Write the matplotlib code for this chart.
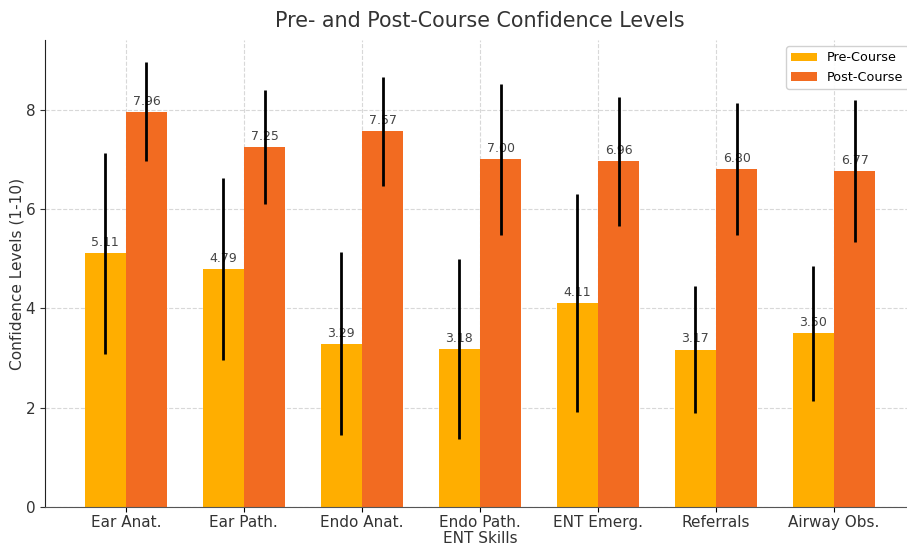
import numpy as np
import matplotlib
matplotlib.use("Agg")
import matplotlib.pyplot as plt

# dados
habilidades = ["Ear Anat.", "Ear Path.", "Endo Anat.", "Endo Path.",
               "ENT Emerg.", "Referrals", "Airway Obs."]
pre_media = [5.11, 4.79, 3.29, 3.18, 4.11, 3.17, 3.50]
pos_media = [7.96, 7.25, 7.57, 7.00, 6.96, 6.80, 6.77]
pre_dp = [2.02, 1.83, 1.84, 1.81, 2.20, 1.28, 1.36]
pos_dp = [1.00, 1.14, 1.10, 1.53, 1.29, 1.33, 1.43]

cor_pre = "#FFAE00"
cor_pos = "#F26B21"

fig = plt.figure(figsize=(9.07, 5.45), dpi=100)
ax = fig.add_axes([0.0496, 0.0697, 0.959, 0.857])

x = np.arange(len(habilidades))
largura = 0.35

b1 = ax.bar(x - largura/2, pre_media, largura, yerr=pre_dp, color=cor_pre,
            label="Pre-Course", error_kw=dict(ecolor="black", elinewidth=2, capsize=0))
b2 = ax.bar(x + largura/2, pos_media, largura, yerr=pos_dp, color=cor_pos,
            label="Post-Course", error_kw=dict(ecolor="black", elinewidth=2, capsize=0))

# rótulos de valor acima das barras
for barras in (b1, b2):
    for b in barras:
        ax.annotate(f"{b.get_height():.2f}",
                    (b.get_x() + b.get_width()/2, b.get_height()),
                    xytext=(0, 3), textcoords="offset points",
                    ha="center", va="bottom", fontsize=9, color="#444444",
                    zorder=1)

ax.set_title("Pre- and Post-Course Confidence Levels", fontsize=14.9, color="#333333", pad=9)
ax.set_xlabel("ENT Skills", fontsize=11, color="#333333", labelpad=1)
ax.set_ylabel("Confidence Levels (1-10)", fontsize=11.1, color="#333333", labelpad=1)
ax.set_xticks(x)
ax.set_xticklabels(habilidades, fontsize=11, color="#333333")
ax.tick_params(axis="y", labelsize=11, colors="#333333")
ax.tick_params(axis="x", pad=2)
ax.set_yticks([0, 2, 4, 6, 8])

ax.set_axisbelow(True)
ax.grid(True, linestyle="--", color="#d8d8d8", linewidth=0.8)
ax.spines["top"].set_visible(False)
ax.spines["right"].set_visible(False)
ax.spines["bottom"].set_color("#555555")
ax.spines["left"].set_color("#222222")

ax.legend(loc="upper right", fontsize=9.2, framealpha=0.9)

fig.savefig("out.png", dpi=100)
